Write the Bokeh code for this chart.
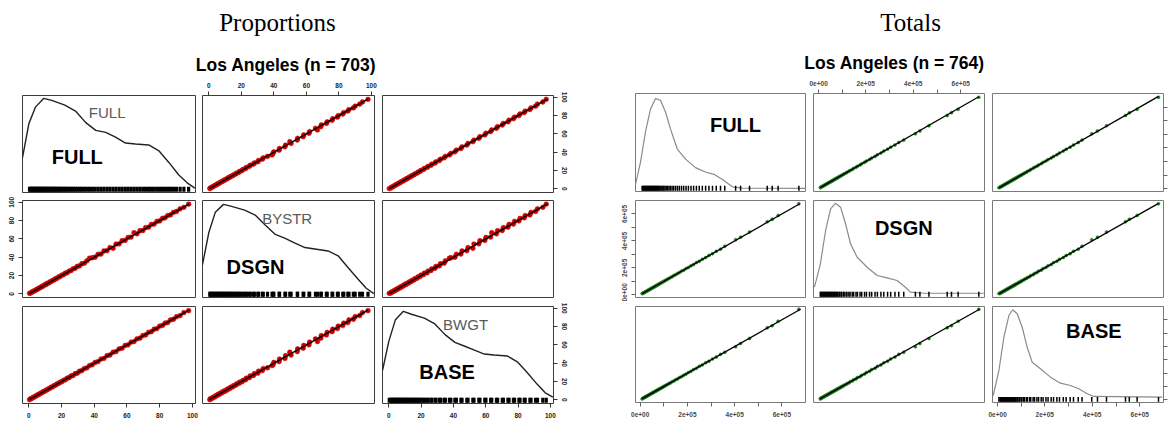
import math
from bokeh.plotting import figure
from bokeh.layouts import row, column
from bokeh.models import Range1d, FixedTicker, LinearAxis
from bokeh.core.properties import value
from bokeh.embed import file_html
from bokeh.resources import INLINE

# ---------------- data ----------------
left_title = "Proportions"
right_title = "Totals"
left_subtitle = "Los Angeles  (n = 703)"
right_subtitle = "Los Angeles  (n = 764)"

var_codes = ["FULL", "DSGN", "BASE"]
prop_names = ["FULL", "BYSTR", "BWGT"]

# proportions (percent), one value per sampled area
prop_full = [0.4, 1.1, 1.9, 2.6, 3.4, 4.2, 4.9, 5.7, 6.4, 7.2,
             7.9, 8.7, 9.5, 10.3, 11.1, 11.9, 12.8, 13.6, 14.5, 15.4,
             16.3, 17.2, 18.2, 19.1, 20.1, 21.2, 22.3, 23.4, 24.6, 25.8,
             27.0, 28.3, 29.6, 31.0, 32.4, 33.9, 35.5, 37.1, 38.8, 40.5,
             42.3, 44.1, 45.9, 47.8, 49.6, 51.5, 53.3, 55.2, 57.0, 58.9,
             60.7, 62.5, 64.3, 66.1, 67.9, 69.7, 71.4, 73.2, 74.9, 76.6,
             78.3, 80.0, 81.7, 83.3, 84.9, 86.6, 88.4, 90.3, 92.5, 94.8,
             97.7]
prop_dsgn = [0.6, 1.0, 2.1, 2.5, 3.6, 4.0, 5.1, 5.5, 6.6, 7.0,
             8.1, 8.5, 9.8, 10.1, 11.4, 11.7, 13.0, 13.4, 14.8, 15.2,
             16.6, 17.0, 18.5, 18.9, 20.4, 21.0, 22.6, 23.1, 24.9, 25.5,
             27.4, 28.0, 30.1, 30.6, 32.9, 33.5, 36.1, 38.9, 39.5, 40.0,
             43.2, 43.5, 46.8, 47.2, 50.6, 49.8, 54.4, 54.6, 58.0, 58.4,
             61.6, 62.0, 66.8, 65.6, 68.9, 69.2, 72.3, 72.8, 75.8, 76.2,
             79.1, 79.6, 82.4, 83.0, 85.5, 86.2, 88.9, 90.0, 92.8, 94.5,
             97.9]
prop_base = [0.3, 1.3, 1.7, 2.8, 3.2, 4.4, 4.7, 5.9, 6.2, 7.4,
             7.7, 8.9, 9.3, 10.5, 10.9, 12.1, 12.6, 13.8, 14.3, 15.6,
             16.1, 17.4, 18.0, 19.3, 19.8, 21.4, 22.0, 23.7, 24.3, 26.1,
             26.6, 28.6, 29.2, 31.3, 32.0, 34.2, 35.0, 37.5, 38.4, 40.9,
             41.8, 44.6, 45.3, 48.3, 49.0, 52.0, 52.7, 55.7, 56.4, 59.4,
             60.1, 63.0, 63.7, 66.6, 67.3, 70.2, 70.9, 73.7, 74.4, 77.1,
             77.8, 80.5, 81.2, 83.8, 84.4, 87.3, 88.0, 90.8, 92.0, 95.3,
             97.4]

# density curves of the proportions (relative height)
prop_dens_x = [-3.9, 0, 4, 9, 14, 22, 28.5, 34.8, 40.9, 47, 53, 59.1, 65.2, 73.3,
               79.5, 85.6, 91.7, 96.8, 101.5]
prop_dens_full = [0.36, 0.71, 0.88, 0.97, 0.95, 0.90, 0.84, 0.72, 0.64, 0.62, 0.57,
                  0.51, 0.50, 0.49, 0.43, 0.31, 0.18, 0.10, 0.045]
prop_dens_dsgn = [0.34, 0.67, 0.88, 0.96, 0.94, 0.90, 0.85, 0.745, 0.65, 0.61, 0.56,
                  0.515, 0.50, 0.48, 0.43, 0.31, 0.19, 0.095, 0.04]
prop_dens_base = [0.34, 0.64, 0.86, 0.95, 0.92, 0.88, 0.82, 0.71, 0.63, 0.59, 0.55,
                  0.51, 0.50, 0.49, 0.43, 0.32, 0.20, 0.11, 0.065]

# totals (in thousands)
tot_full_k = [8, 11, 14, 17, 20, 23, 26, 29, 32, 35,
              38, 41, 44, 47, 50, 53, 56, 59, 62, 65,
              68, 71, 74, 77, 80, 84, 88, 92, 96, 100,
              105, 110, 116, 122, 128, 135, 142, 150, 158, 166,
              175, 184, 194, 204, 215, 226, 238, 250, 263, 277,
              291, 306, 322, 340, 358, 404, 425, 463, 538, 559,
              584, 672]
tot_dsgn_k = [9, 10, 15, 16, 21, 22, 27, 28, 33, 34,
              39, 40, 45, 46, 51, 52, 57, 58, 63, 64,
              69, 70, 75, 76, 81, 83, 89, 91, 97, 99,
              106, 109, 117, 121, 129, 134, 143, 149, 159, 165,
              176, 183, 195, 203, 216, 225, 239, 249, 264, 276,
              292, 305, 323, 339, 360, 409, 428, 466, 543, 561,
              589, 676]
tot_base_k = [7, 12, 13, 18, 19, 24, 25, 30, 31, 36,
              37, 42, 43, 48, 49, 54, 55, 60, 61, 66,
              67, 72, 73, 78, 79, 85, 87, 93, 95, 101,
              104, 111, 115, 123, 127, 136, 141, 151, 157, 167,
              174, 185, 193, 205, 214, 227, 237, 251, 262, 278,
              290, 307, 321, 341, 357, 398, 422, 460, 540, 556,
              589, 679]
tot_full = [v * 1000 for v in tot_full_k]
tot_dsgn = [v * 1000 for v in tot_dsgn_k]
tot_base = [v * 1000 for v in tot_base_k]

tot_dens_x_full = [-20000, 1000, 22000, 44000, 65000, 86000, 107000, 128000, 157000,
                   192000, 234000, 276000, 312000, 347000, 390000, 432000, 700000]
tot_dens_full = [0.072, 0.296, 0.605, 0.845, 0.948, 0.931, 0.811, 0.639, 0.433,
                 0.330, 0.244, 0.199, 0.175, 0.124, 0.048, 0.034, 0.031]
tot_dens_x_dsgn = [-16000, 9000, 31000, 52000, 73000, 94000, 115000, 136000, 164000,
                   206000, 248000, 290000, 332000, 367000, 388000, 444000, 697000]
tot_dens_dsgn = [0.106, 0.347, 0.691, 0.914, 0.972, 0.931, 0.760, 0.554, 0.415,
                 0.312, 0.227, 0.203, 0.175, 0.106, 0.055, 0.044, 0.044]
tot_dens_x_base = [-17000, 7000, 28000, 49000, 65000, 84000, 105000, 126000, 147000,
                   182000, 224000, 266000, 308000, 343000, 379000, 407000, 695000]
tot_dens_base = [0.073, 0.333, 0.680, 0.906, 0.966, 0.924, 0.784, 0.576, 0.420,
                 0.351, 0.264, 0.201, 0.177, 0.143, 0.091, 0.063, 0.055]

prop_ticks = [0, 20, 40, 60, 80, 100]
tot_ticks = [0, 200000, 400000, 600000]
tot_tick_labels = ["0e+00", "2e+05", "4e+05", "6e+05"]
tot_minor_ticks = [100000, 300000, 500000]

# ---------------- helpers ----------------
FONT = "Liberation Sans"


def panel(w, h, bl, br, bt, bb, xr, yr, outline):
    p = figure(width=w, height=h, output_backend="svg", toolbar_location=None,
               x_range=Range1d(*xr), y_range=Range1d(*yr),
               x_axis_location=None, y_axis_location=None,
               min_border_left=bl, min_border_right=br,
               min_border_top=bt, min_border_bottom=bb,
               outline_line_color=outline, outline_line_width=1,
               background_fill_color="white", border_fill_color="white")
    p.xgrid.visible = False
    p.ygrid.visible = False
    return p


def add_axis(p, side, major, minor, overrides, color, tick_color, range_name=None):
    kw = {}
    if range_name:
        if side in ("left", "right"):
            kw["y_range_name"] = range_name
        else:
            kw["x_range_name"] = range_name
    ax = LinearAxis(ticker=FixedTicker(ticks=major, minor_ticks=minor),
                    axis_line_color=None,
                    major_tick_in=0, major_tick_out=4,
                    minor_tick_in=0, minor_tick_out=4 if minor else 0,
                    major_tick_line_color=tick_color, minor_tick_line_color=tick_color,
                    major_label_standoff=5 if side == "below" else 4,
                    major_label_text_font_size="6.5px",
                    major_label_text_font=FONT,
                    major_label_text_font_style="bold",
                    major_label_text_color=color, **kw)
    if overrides:
        ax.major_label_overrides = overrides
    if side in ("left", "right"):
        ax.major_label_orientation = "parallel"
    p.add_layout(ax, side)


def build_block(vars_, dens_x, dens_y, rng, cols, rows, st):
    grid_rows = []
    for i in range(3):
        figs = []
        h, bt, bb = rows[i]
        for j in range(3):
            w, bl, br = cols[j]
            if i == j:
                p = panel(w, h, bl, br, bt, bb, rng, (0, 1), st["outline"])
                p.extra_y_ranges = {"var": Range1d(*rng)}
                p.line(dens_x[i], dens_y[i], line_color=st["dens_color"],
                       line_width=st["dens_width"])
                p.segment(x0=vars_[i], y0=0.008, x1=vars_[i], y1=0.058,
                          line_color="black", line_width=st["rug_width"])
                if st.get("gray_names"):
                    gx, gy = st["gray_pos"][i]
                    p.text(x=[gx], y=[gy], text=[st["gray_names"][i]],
                           text_font=value(FONT), text_font_size="15px",
                           text_color="#5a5a5a", text_align="center",
                           text_baseline="middle")
                bx, by = st["bold_pos"][i]
                p.text(x=[bx], y=[by], text=[var_codes[i]], text_font=value(FONT),
                       text_font_style="bold", text_font_size="20px",
                       text_color="black", text_align="center", text_baseline="middle")
            else:
                p = panel(w, h, bl, br, bt, bb, rng, rng, st["outline"])
                p.scatter(vars_[j], vars_[i], size=st["pt_size"], marker="circle",
                          fill_color=st["pt_color"], line_color=st["pt_color"],
                          line_width=0.5)
                lo = min(min(vars_[j]), min(vars_[i]))
                hi = max(max(vars_[j]), max(vars_[i]))
                p.line([lo, hi], [lo, hi], line_color="black", line_width=st["line_width"])
            rn = "var" if i == j else None
            if i == 0 and j == 1:
                add_axis(p, "above", st["major"], st["minor"], st["overrides"],
                         st["lab_color"], st["tick_color"])
            if i == 2 and j in (0, 2):
                add_axis(p, "below", st["major"], st["minor"], st["overrides"],
                         st["lab_color"], st["tick_color"])
            if i == 1 and j == 0:
                add_axis(p, "left", st["major"], st["minor"], st["overrides"],
                         st["lab_color"], st["tick_color"])
            if i in (0, 2) and j == 2:
                if st["right_labels"]:
                    add_axis(p, "right", st["major"], st["minor"], st["overrides"],
                             st["lab_color"], st["tick_color"], range_name=rn)
                else:
                    add_axis(p, "right", [], st["major"] + st["minor"], None,
                             st["lab_color"], st["tick_color"], range_name=rn)
            figs.append(p)
        grid_rows.append(row(*figs))
    return grid_rows


def header(w, h, title, tx, ty, sub, sx, sy):
    p = figure(width=w, height=h, output_backend="svg", toolbar_location=None,
               x_range=Range1d(0, w), y_range=Range1d(h, 0),
               x_axis_location=None, y_axis_location=None,
               min_border_left=0, min_border_right=0, min_border_top=0,
               min_border_bottom=0, outline_line_color=None)
    p.xgrid.visible = False
    p.ygrid.visible = False
    p.text(x=[tx], y=[ty], text=[title], text_font=value("Liberation Serif"),
           text_font_size="25px", text_color="black", text_align="center",
           text_baseline="middle")
    p.text(x=[sx], y=[sy], text=[sub], text_font=value(FONT), text_font_style="bold",
           text_font_size="17.5px", text_color="black", text_align="center",
           text_baseline="middle")
    return p


# ---------------- left block (proportions) ----------------
prop_range = (-3.9, 101.9)
L_cols = [(199, 22, 4), (179, 3, 4), (212, 4, 37)]
L_rows = [(117, 17, 3), (106, 5, 4), (119, 5, 17)]
left_style = dict(
    outline="#3c3c3c", dens_color="#222222", dens_width=1.4, rug_width=3.2,
    gray_names=prop_names,
    gray_pos=[(47.9, 0.82), (48.2, 0.81), (47.5, 0.81)],
    bold_pos=[(29.6, 0.37), (28.7, 0.31), (36.1, 0.32)],
    pt_size=4.8, pt_color="#cc0000", line_width=1.4,
    major=prop_ticks, minor=[], overrides=None,
    lab_color="#222222", tick_color="#333333", right_labels=True,
)
left_rows = build_block([prop_full, prop_dsgn, prop_base], [prop_dens_x] * 3,
                        [prop_dens_full, prop_dens_dsgn, prop_dens_base],
                        prop_range, L_cols, L_rows, left_style)
left_head = header(590, 78, left_title, 277, 22, left_subtitle, 288, 64.5)
left_block = column(left_head, *left_rows)

# ---------------- right block (totals) ----------------
tot_range = (-20000, 700000)
R_cols = [(219, 45, 4), (179, 4, 4), (183, 4, 8)]
R_rows = [(119, 17, 4), (106, 5, 4), (119, 5, 18)]
right_style = dict(
    outline="#7a7a7a", dens_color="#8a8a8a", dens_width=1.2, rug_width=1.5,
    gray_names=None, gray_pos=None,
    bold_pos=[(403500, 0.68), (360200, 0.72), (406500, 0.74)],
    pt_size=3.0, pt_color="#1e7a1e", line_width=1.3,
    major=tot_ticks, minor=tot_minor_ticks,
    overrides={t: s for t, s in zip(tot_ticks, tot_tick_labels)},
    lab_color="#4a4a4a", tick_color="#666666", right_labels=False,
)
right_rows = build_block([tot_full, tot_dsgn, tot_base],
                         [tot_dens_x_full, tot_dens_x_dsgn, tot_dens_x_base],
                         [tot_dens_full, tot_dens_dsgn, tot_dens_base],
                         tot_range, R_cols, R_rows, right_style)
right_head = header(581, 76, right_title, 320, 22, right_subtitle, 306.5, 62.5)
right_block = column(right_head, *right_rows)

layout = row(left_block, right_block)

open("out.html", "w").write(file_html(layout, INLINE))
